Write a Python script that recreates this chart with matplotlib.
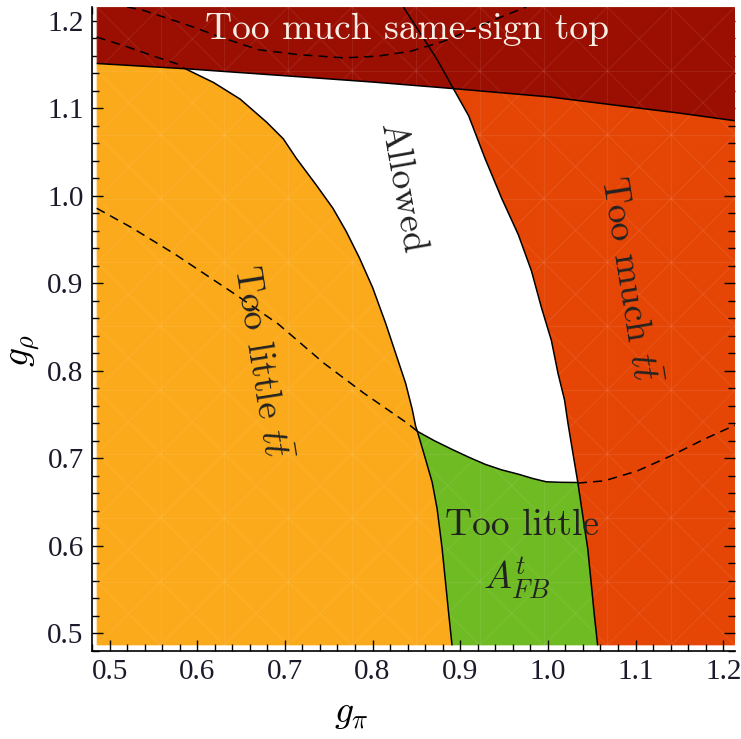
import numpy as np
import matplotlib
matplotlib.use("Agg")
import matplotlib.pyplot as plt

plt.rcParams["mathtext.fontset"] = "cm"

# ---- constraint boundaries in the (g_pi, g_rho) plane ----
# same-sign top bound (excluded above)
top_x = [0.4853, 0.5864, 0.7000, 0.8000, 0.8922, 1.0017, 1.0832, 1.1500, 1.2135]
top_y = [1.1512, 1.1452, 1.1372, 1.1300, 1.1225, 1.1130, 1.1028, 1.0945, 1.0858]

# lower ttbar cross-section bound (excluded to the left)
lo_x = [0.5864, 0.6189, 0.6491, 0.6793, 0.6982, 0.7133, 0.7359, 0.7548, 0.7699, 0.7850,
        0.8001, 0.8152, 0.8265, 0.8378, 0.8454, 0.8492, 0.8511,
        0.8605, 0.8681, 0.8737, 0.8794, 0.8832, 0.8870, 0.8907]
lo_y = [1.1452, 1.1293, 1.1104, 1.0840, 1.0651, 1.0425, 1.0122, 0.9858, 0.9595, 0.9292,
        0.8952, 0.8537, 0.8197, 0.7857, 0.7556, 0.7367, 0.7310,
        0.6990, 0.6725, 0.6424, 0.5970, 0.5593, 0.5215, 0.4864]

# upper ttbar cross-section bound (excluded to the right)
hi_x = [0.8352, 0.8737, 0.8922, 0.9096, 0.9284, 0.9473, 0.9663, 0.9813, 0.9926, 1.0040,
        1.0116, 1.0190, 1.0229, 1.0285, 1.0342, 1.0398, 1.0455, 1.0530, 1.0568]
hi_y = [1.2157, 1.1557, 1.1225, 1.0915, 1.0425, 0.9972, 0.9556, 0.9142, 0.8726, 0.8349,
        0.7971, 0.7669, 0.7404, 0.7065, 0.6725, 0.6348, 0.5971, 0.5215, 0.4864]

# forward-backward asymmetry bound (excluded below)
afb_x = [0.8511, 0.8700, 0.8907, 0.9100, 0.9284, 0.9470, 0.9663, 0.9830, 0.9983, 1.0150, 1.0342]
afb_y = [0.7310, 0.7205, 0.7103, 0.7013, 0.6933, 0.6870, 0.6820, 0.6770, 0.6733, 0.6727, 0.6725]

# contour continuations drawn dashed
afb_left_x = [0.4853, 0.5260, 0.5751, 0.6430, 0.6922, 0.7450, 0.7903, 0.8394, 0.8511]
afb_left_y = [0.9858, 0.9632, 0.9330, 0.8877, 0.8537, 0.8084, 0.7744, 0.7404, 0.7310]
afb_right_x = [1.0342, 1.0643, 1.1021, 1.1399, 1.1776, 1.2135]
afb_right_y = [0.6718, 0.6744, 0.6857, 0.7027, 0.7216, 0.7380]
lo_ext_x = [0.4853, 0.5185, 0.5563, 0.5789, 0.5864]
lo_ext_y = [1.1814, 1.1708, 1.1576, 1.1501, 1.1452]
ss_x = [0.5200, 0.5374, 0.5600, 0.5940, 0.6242, 0.6695, 0.7148, 0.7676, 0.8054, 0.8431, 0.8809, 0.9337, 0.9753]
ss_y = [1.2157, 1.2123, 1.2048, 1.1934, 1.1821, 1.1670, 1.1614, 1.1576, 1.1595, 1.1651, 1.1764, 1.1991, 1.2157]

tick_vals = [0.5, 0.6, 0.7, 0.8, 0.9, 1.0, 1.1, 1.2]
tick_labels = ["0.5", "0.6", "0.7", "0.8", "0.9", "1.0", "1.1", "1.2"]

xlim = (0.4853, 1.2135)
ylim = (0.4864, 1.2157)

c_ss = "#9b0e02"
c_lo = "#fbaa1b"
c_hi = "#e54606"
c_afb = "#6fbb23"

fig = plt.figure(figsize=(7.41, 7.39), dpi=100)
ax = fig.add_axes([0.1242, 0.1191, 0.8677, 0.8714])
ax.set_xlim(*xlim)
ax.set_ylim(*ylim)
ax.set_facecolor("white")

x0, x1 = xlim
y0, y1 = ylim

# too little ttbar (left region)
ax.fill([x0, x0] + lo_x + [x0], [y0, top_y[0]] + lo_y + [y0], color=c_lo, lw=0, zorder=1)
# too much ttbar (right region), capped by same-sign region drawn above it
ax.fill(hi_x[::-1] + [x1, x1], hi_y[::-1] + [y1, y0], color=c_hi, lw=0, zorder=1)
# too little A_FB: between the two ttbar bounds, below the asymmetry bound
i_lo = lo_x.index(afb_x[0])
i_hi = hi_x.index(afb_x[-1])
gx = lo_x[i_lo:] + hi_x[i_hi:][::-1] + afb_x[::-1]
gy = lo_y[i_lo:] + hi_y[i_hi:][::-1] + afb_y[::-1]
ax.fill(gx, gy, color=c_afb, lw=0, zorder=1)
# too much same-sign top
ax.fill(top_x + [x1, x0], top_y + [y1, y1], color=c_ss, lw=0, zorder=2)

# faint plot-mesh lines
gxs = np.linspace(x0, x1, 11)
gys = np.linspace(y0, y1, 11)
dy = gys[1] - gys[0]
mesh_kw = dict(color="white", alpha=0.07, lw=0.9, zorder=2.5)
for v in gxs:
    ax.plot([v, v], [y0, y1], **mesh_kw)
for v in gys:
    ax.plot([x0, x1], [v, v], **mesh_kw)
for k in range(-10, 11):
    ax.plot([x0, x1], [y0 + k * dy, y1 + k * dy], **mesh_kw)
    ax.plot([x0, x1], [y1 + k * dy, y0 + k * dy], **mesh_kw)

# boundaries
solid = dict(color="black", lw=1.1, zorder=4, solid_capstyle="butt", solid_joinstyle="round")
ax.plot(top_x, top_y, **solid)
ax.plot(lo_x, lo_y, **solid)
ax.plot(hi_x, hi_y, **solid)
ax.plot(afb_x, afb_y, **solid)
dashed = dict(color="black", lw=1.1, zorder=4, linestyle=(0, (6, 4)))
ax.plot(afb_left_x, afb_left_y, **dashed)
ax.plot(afb_right_x, afb_right_y, **dashed)
ax.plot(lo_ext_x, lo_ext_y, **dashed)
ax.plot(ss_x, ss_y, **dashed)

# region labels
lab = dict(family="cmr10", fontsize=27, ha="center", va="center", zorder=5)
ax.text(0.8397, 1.1897, "Too much same-sign top", color="#f7efe6", **lab)
ax.text(0.8330, 1.0085, "Allowed", color="#222222", rotation=-80, **lab)
ax.text(0.6721, 0.8103, r"Too little $t\bar{t}$", color="#222222", rotation=-81, **lab)
ax.text(1.0923, 0.9043, r"Too much $t\bar{t}$", color="#222222", rotation=-81, **lab)
ax.text(0.9700, 0.6234, "Too little", color="#222222", **lab)
ax.text(0.9643, 0.5634, r"$A^t_{FB}$", color="#222222", **lab)

# axes styling
for s in ("top", "right"):
    ax.spines[s].set_visible(False)
for s in ("left", "bottom"):
    ax.spines[s].set_linewidth(1.2)
    ax.spines[s].set_zorder(6)

ax.set_xticks(tick_vals, tick_labels)
ax.set_yticks(tick_vals, tick_labels)
minor = np.arange(0.48, 1.22, 0.02)
ax.set_xticks(minor, minor=True)
ax.set_yticks(minor, minor=True)
ax.tick_params(which="both", direction="in", top=True, right=True, width=1.0, color="black", zorder=6)
ax.tick_params(which="major", length=8, labelsize=21, pad=6)
ax.tick_params(which="minor", length=5)
for t in ax.get_xticklabels() + ax.get_yticklabels():
    t.set_family("Liberation Serif")
    t.set_color("#1a1a2a")

ax.set_xlabel(r"$g_\pi$", fontsize=27)
ax.set_ylabel(r"$g_\rho$", fontsize=27)
ax.xaxis.set_label_coords(0.404, -0.068)
ax.yaxis.set_label_coords(-0.078, 0.467)

fig.savefig("out.png", dpi=100)
